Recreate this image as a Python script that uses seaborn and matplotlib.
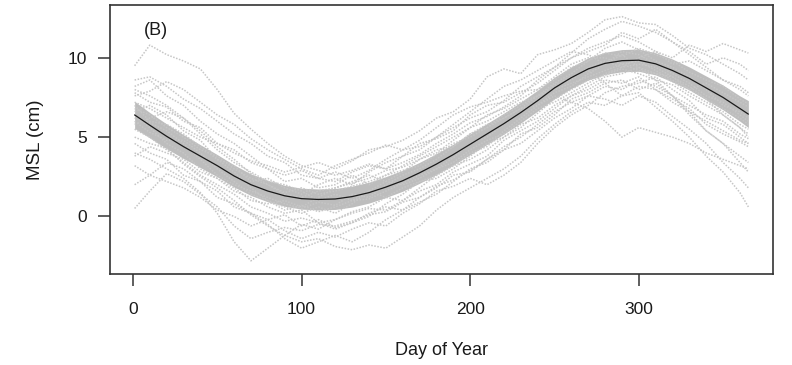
import pandas as pd
import numpy as np
import matplotlib
matplotlib.use("Agg")
import matplotlib.pyplot as plt
import seaborn as sns

# sample days (day of year)
days = [1, 10, 20, 30, 40, 50, 60, 70, 80, 90, 100, 110, 120, 130, 140, 150, 160, 170, 180,
        190, 200, 210, 220, 230, 240, 250, 260, 270, 280, 290, 300, 310, 320, 330, 340, 350, 360, 365]

# fitted seasonal cycle (black line), cm
seasonal_fit = [6.4, 5.75, 5.05, 4.4, 3.8, 3.2, 2.55, 2.0, 1.6, 1.3, 1.12, 1.07, 1.1, 1.25, 1.5, 1.85,
                2.25, 2.75, 3.3, 3.9, 4.55, 5.2, 5.85, 6.55, 7.3, 8.1, 8.75, 9.3, 9.65, 9.82, 9.85,
                9.62, 9.2, 8.7, 8.1, 7.5, 6.8, 6.45]
# half width of the grey uncertainty band, cm
band_half = [0.85, 0.8, 0.78, 0.75, 0.72, 0.7, 0.7, 0.68, 0.68, 0.66, 0.66, 0.66, 0.66, 0.66, 0.66,
             0.66, 0.66, 0.66, 0.66, 0.66, 0.66, 0.66, 0.66, 0.66, 0.66, 0.68, 0.68, 0.7, 0.7, 0.7,
             0.7, 0.7, 0.72, 0.72, 0.75, 0.78, 0.8, 0.85]

# individual years (grey dotted lines), cm
year_01 = [9.5, 10.8, 10.2, 9.8, 9.3, 8.0, 6.5, 5.5, 4.6, 3.8, 3.2, 2.9, 2.6, 2.9, 3.3, 3.0, 3.4, 3.9, 4.6,
           5.2, 5.9, 6.3, 6.9, 7.6, 8.6, 9.4, 10.3, 11.2, 11.8, 12.3, 12.0, 11.6, 11.0, 10.4, 9.6, 10.0, 9.6, 9.2]
year_02 = [0.5, 1.6, 2.7, 2.2, 1.4, 0.6, -0.6, -1.4, -1.0, -0.7, -0.9, -0.5, -0.6, -0.3, 0.1, 0.3, 0.9, 1.2, 1.9,
           2.3, 2.9, 3.6, 4.4, 5.0, 5.8, 6.6, 7.2, 7.6, 7.4, 7.0, 7.6, 7.2, 6.3, 5.5, 4.6, 3.4, 2.4, 1.8]
year_03 = [4.0, 3.6, 3.0, 2.4, 1.5, 0.2, -1.6, -2.8, -2.0, -1.2, -0.5, -0.8, -0.2, 0.3, 0.6, 1.2, 1.0, 1.8, 2.6,
           3.2, 3.6, 4.2, 5.0, 5.6, 6.5, 7.4, 8.0, 8.6, 8.9, 9.3, 9.0, 8.6, 8.3, 7.6, 7.0, 6.4, 5.6, 5.2]
year_04 = [5.0, 4.6, 4.3, 3.3, 2.5, 1.8, 1.0, 0.1, -0.6, -1.2, -1.6, -1.4, -1.9, -2.1, -1.8, -2.0, -1.3, -0.6, 0.4,
           1.2, 1.8, 2.4, 3.0, 3.8, 4.9, 5.8, 6.6, 7.2, 7.0, 7.6, 8.2, 8.0, 7.4, 6.8, 5.8, 5.2, 4.7, 4.4]
year_05 = [7.2, 6.8, 6.2, 5.6, 5.0, 4.6, 4.0, 3.5, 3.2, 2.8, 3.1, 3.4, 3.0, 3.5, 4.2, 4.4, 4.8, 5.4, 6.2,
           6.6, 7.4, 8.8, 9.3, 9.0, 10.2, 10.5, 10.9, 11.6, 12.4, 12.6, 12.2, 12.1, 11.4, 10.6, 10.2, 9.6, 9.0, 8.6]
year_06 = [6.0, 5.3, 4.8, 4.8, 4.0, 3.0, 2.2, 1.4, 1.0, 0.4, 0.7, 0.3, 0.6, 1.0, 1.1, 1.6, 2.1, 2.6, 3.0,
           3.7, 4.6, 5.0, 5.8, 6.6, 7.4, 8.3, 8.8, 9.2, 8.4, 7.6, 7.8, 6.9, 6.0, 5.0, 3.8, 2.8, 1.5, 0.6]
year_07 = [8.0, 7.6, 7.0, 6.2, 5.4, 4.4, 3.6, 2.7, 2.0, 1.4, 1.2, 1.6, 1.8, 2.1, 2.4, 2.9, 3.1, 3.6, 4.2,
           4.4, 5.2, 5.8, 6.2, 6.8, 7.0, 7.6, 7.2, 6.8, 6.0, 5.0, 5.6, 5.3, 5.0, 4.6, 4.0, 3.6, 3.2, 3.0]
year_08 = [6.8, 6.4, 5.6, 5.0, 4.2, 3.8, 3.0, 2.4, 2.0, 1.5, 1.8, 1.4, 1.6, 1.9, 2.2, 2.6, 2.9, 3.2, 3.9,
           4.6, 5.0, 5.6, 6.4, 7.0, 7.6, 8.4, 9.0, 9.8, 10.3, 10.1, 10.6, 10.2, 9.8, 9.1, 8.6, 8.2, 7.4, 7.1]
year_09 = [5.5, 5.0, 4.2, 3.4, 2.6, 2.0, 1.4, 0.6, 0.2, -0.3, -0.1, -0.4, -0.2, 0.2, 0.5, 0.4, 1.0, 1.6, 2.0,
           2.8, 3.3, 3.8, 4.8, 5.4, 6.0, 6.8, 7.6, 8.2, 8.8, 9.0, 9.4, 9.0, 8.5, 7.8, 7.2, 6.6, 5.8, 5.5]
year_10 = [8.6, 8.8, 8.2, 7.4, 6.8, 6.0, 5.2, 4.6, 3.8, 3.4, 2.6, 2.4, 2.8, 2.4, 2.9, 3.6, 4.2, 4.4, 5.0,
           5.6, 6.2, 6.6, 7.3, 8.2, 8.8, 9.4, 10.0, 10.6, 11.0, 11.4, 11.0, 10.4, 10.0, 10.8, 10.4, 10.9, 10.5, 10.3]
year_11 = [3.2, 2.6, 2.2, 1.8, 1.2, 0.4, 0.0, -0.6, -0.2, -0.9, -1.4, -1.0, -1.3, -0.8, -0.4, -0.6, 0.2, 0.8, 1.6,
           1.9, 2.4, 2.0, 2.6, 3.4, 4.6, 5.6, 6.4, 7.0, 7.8, 8.2, 8.4, 8.8, 8.0, 7.3, 6.2, 5.8, 5.0, 4.6]
year_12 = [7.6, 7.9, 8.5, 8.0, 7.2, 6.4, 5.8, 4.9, 4.2, 3.6, 3.0, 2.6, 3.2, 3.6, 4.0, 4.5, 4.2, 4.8, 5.6,
           6.4, 6.9, 7.2, 7.6, 7.9, 8.0, 8.6, 9.4, 9.8, 10.6, 11.0, 10.5, 9.8, 9.4, 8.8, 8.0, 7.0, 6.6, 6.2]
year_13 = [6.2, 5.9, 5.4, 4.6, 3.6, 2.6, 2.0, 1.6, 1.2, 0.8, 0.5, 0.9, 0.7, 1.4, 1.2, 2.0, 2.6, 3.0, 3.6,
           4.4, 5.2, 5.6, 6.2, 6.8, 7.6, 8.0, 8.4, 8.8, 9.2, 9.6, 9.2, 9.0, 8.8, 8.2, 7.4, 6.4, 5.6, 5.0]
year_14 = [2.0, 2.6, 3.4, 3.0, 2.2, 1.6, 0.6, 0.2, -0.5, -1.4, -2.0, -1.6, -1.2, -1.6, -1.0, -0.2, 0.4, 0.9, 1.4,
           2.2, 3.0, 3.4, 4.2, 4.6, 5.4, 6.2, 6.8, 7.6, 8.2, 8.0, 8.6, 8.2, 7.6, 6.6, 5.4, 4.6, 3.8, 3.4]
year_15 = [7.8, 7.2, 6.9, 6.0, 5.6, 4.6, 4.2, 3.4, 3.0, 2.6, 2.9, 2.4, 2.2, 2.8, 3.2, 3.0, 3.8, 4.6, 4.9,
           5.4, 6.4, 7.0, 7.2, 7.8, 8.4, 9.2, 10.0, 10.4, 10.8, 11.6, 11.2, 11.8, 11.0, 10.2, 9.4, 8.6, 8.0, 7.6]
year_16 = [4.6, 4.0, 3.6, 2.6, 2.2, 1.2, 0.8, 0.2, -0.2, 0.1, -0.6, -0.2, -0.7, -0.4, 0.2, 0.6, 0.4, 1.2, 1.8,
           2.6, 2.8, 3.6, 4.2, 5.2, 5.6, 6.4, 7.4, 7.8, 8.4, 8.6, 8.0, 8.4, 7.6, 7.0, 6.4, 6.0, 5.2, 4.9]
year_17 = [6.6, 7.0, 6.4, 5.4, 4.8, 3.6, 3.2, 2.2, 2.4, 1.8, 1.4, 2.0, 2.4, 2.0, 2.8, 3.4, 3.8, 4.2, 5.0,
           5.8, 6.6, 7.4, 8.2, 8.6, 9.2, 9.8, 10.4, 10.2, 9.6, 10.2, 9.4, 8.6, 7.6, 6.4, 5.4, 4.6, 3.4, 2.8]
year_18 = [5.8, 6.2, 6.6, 6.2, 5.2, 4.2, 3.4, 2.8, 2.2, 2.0, 1.6, 1.0, 1.4, 1.0, 1.6, 2.2, 2.0, 2.4, 3.0,
           3.4, 4.2, 4.8, 5.2, 6.0, 6.8, 7.2, 7.8, 8.4, 9.0, 9.4, 10.0, 10.4, 9.6, 9.8, 9.2, 8.6, 8.2, 7.8]
year_19 = [7.0, 6.0, 5.8, 5.2, 4.4, 3.6, 2.8, 1.8, 1.0, 0.6, 0.2, 0.6, 0.2, 0.8, 1.6, 1.2, 1.8, 2.2, 2.6,
           3.2, 4.0, 4.4, 5.4, 6.2, 7.0, 7.8, 8.2, 9.0, 9.6, 10.4, 10.2, 9.6, 9.0, 8.4, 7.6, 7.2, 6.4, 6.0]
year_20 = [8.2, 8.6, 7.6, 7.0, 6.0, 5.2, 4.6, 3.8, 3.0, 2.2, 2.4, 1.8, 2.0, 2.6, 2.0, 2.6, 3.2, 3.8, 4.4,
           5.0, 5.6, 6.4, 6.8, 7.4, 8.0, 8.8, 9.6, 10.0, 10.0, 9.6, 9.8, 9.2, 8.6, 8.0, 8.4, 7.8, 7.2, 6.9]
year_21 = [3.8, 4.4, 4.0, 3.6, 2.8, 2.4, 1.6, 1.2, 0.6, 0.2, 0.4, -0.4, -0.8, -0.4, 0.0, 0.8, 1.4, 2.2, 2.4,
           3.0, 3.8, 4.6, 5.0, 5.8, 6.2, 7.0, 7.6, 8.0, 8.6, 8.4, 8.8, 8.0, 7.2, 6.6, 6.0, 5.4, 4.8, 4.6]
year_22 = [6.4, 5.6, 4.6, 4.0, 3.0, 2.4, 1.8, 1.0, 0.8, 1.0, 0.6, 1.2, 1.8, 2.2, 2.6, 2.2, 2.8, 3.6, 4.0,
           4.8, 5.6, 6.0, 6.6, 7.2, 7.6, 8.2, 8.6, 9.4, 9.8, 9.4, 9.6, 9.4, 8.8, 8.0, 7.4, 6.8, 6.2, 5.8]

years = [year_01, year_02, year_03, year_04, year_05, year_06, year_07, year_08, year_09, year_10, year_11,
         year_12, year_13, year_14, year_15, year_16, year_17, year_18, year_19, year_20, year_21, year_22]


def main():
    rows = []
    for i, vals in enumerate(years):
        for d, v in zip(days, vals):
            rows.append({"year": i, "day": d, "msl": v})
    df_years = pd.DataFrame(rows)
    df_fit = pd.DataFrame({"day": days, "msl": seasonal_fit, "half": band_half})

    sns.set_theme(style="ticks")
    plt.rcParams['font.family'] = ['Liberation Sans', 'DejaVu Sans']

    fig = plt.figure(figsize=(7.92, 3.65), dpi=100)
    ax = fig.add_axes([110 / 792, 1 - 274 / 365, 663 / 792, 269 / 365])

    # individual years
    sns.lineplot(data=df_years, x="day", y="msl", units="year", estimator=None,
                 color="#c6c6c6", linewidth=1.1, linestyle=(0, (1, 1)), ax=ax, legend=False)

    # uncertainty band + fitted cycle
    ax.fill_between(df_fit["day"], df_fit["msl"] - df_fit["half"], df_fit["msl"] + df_fit["half"],
                    color="#b2b2b2", alpha=0.85, linewidth=0)
    sns.lineplot(data=df_fit, x="day", y="msl", color="#1a1a1a", linewidth=0.9, ax=ax)

    ax.set_xlim(-13.6, 379.6)
    ax.set_ylim(-3.63, 13.33)
    ax.set_xticks([0, 100, 200, 300])
    ax.set_yticks([0, 5, 10])

    for s in ax.spines.values():
        s.set_visible(True)
        s.set_color("#333333")
        s.set_linewidth(1.2)
    ax.tick_params(axis="both", length=8.6, width=1.1, color="#333333", labelsize=12.5,
                   labelcolor="#1a1a1a", direction="out")
    ax.tick_params(axis="x", pad=11.5)
    ax.tick_params(axis="y", pad=8)

    ax.set_xlabel("Day of Year", fontsize=13, color="#1a1a1a", labelpad=18)
    ax.set_ylabel("MSL (cm)", fontsize=13.5, color="#1a1a1a", labelpad=17)
    ax.text(0.051, 0.907, "(B)", transform=ax.transAxes, fontsize=13, color="#1a1a1a",
            ha="left", va="center")

    fig.savefig("out.png", dpi=100)
    plt.close(fig)


if __name__ == "__main__":
    main()
